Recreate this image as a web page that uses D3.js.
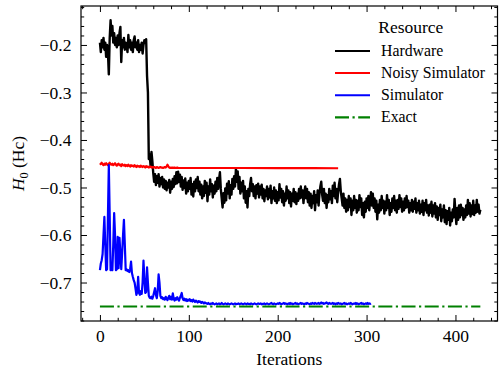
<!DOCTYPE html>
<html><head><meta charset="utf-8">
<script src="https://cdn.jsdelivr.net/npm/d3@7"></script>
<style>
body{margin:0;background:#fff}
svg{display:block}
text{font-family:"Liberation Serif","Times New Roman",serif;fill:#000}
</style>
</head><body><svg id="c" width="499" height="371"></svg>
<script>
// Hardware: one value per iteration, starting at 0
const hardware = [
-0.195,-0.215,-0.190,-0.205,-0.185,-0.210,-0.195,-0.225,-0.200,-0.215,
-0.262,-0.185,-0.148,-0.180,-0.160,-0.195,-0.175,-0.200,-0.185,-0.205,
-0.180,-0.200,-0.175,-0.162,-0.236,-0.190,-0.205,-0.185,-0.210,-0.195,
-0.200,-0.215,-0.179,-0.205,-0.190,-0.210,-0.195,-0.215,-0.190,-0.182,
-0.205,-0.195,-0.210,-0.190,-0.215,-0.200,-0.210,-0.195,-0.218,-0.200,
-0.190,-0.195,-0.188,-0.265,-0.300,-0.440,-0.430,-0.455,-0.425,-0.445,
-0.470,-0.488,-0.472,-0.495,-0.476,-0.490,-0.472,-0.498,-0.480,-0.493,
-0.478,-0.500,-0.483,-0.503,-0.486,-0.506,-0.490,-0.500,-0.484,-0.511,
-0.488,-0.503,-0.482,-0.499,-0.476,-0.493,-0.468,-0.491,-0.467,-0.488,
-0.473,-0.498,-0.478,-0.505,-0.485,-0.501,-0.481,-0.513,-0.490,-0.508,
-0.486,-0.503,-0.480,-0.515,-0.493,-0.519,-0.488,-0.508,-0.483,-0.501,
-0.478,-0.508,-0.488,-0.515,-0.494,-0.523,-0.498,-0.518,-0.486,-0.511,
-0.490,-0.529,-0.498,-0.515,-0.483,-0.508,-0.493,-0.521,-0.496,-0.513,
-0.488,-0.508,-0.480,-0.503,-0.483,-0.468,-0.503,-0.523,-0.542,-0.512,
-0.532,-0.502,-0.527,-0.492,-0.513,-0.487,-0.523,-0.495,-0.515,-0.482,
-0.503,-0.476,-0.498,-0.461,-0.488,-0.466,-0.503,-0.478,-0.513,-0.490,
-0.508,-0.486,-0.523,-0.498,-0.532,-0.508,-0.542,-0.503,-0.518,-0.493,
-0.480,-0.508,-0.493,-0.518,-0.498,-0.523,-0.495,-0.513,-0.492,-0.521,
-0.498,-0.515,-0.494,-0.523,-0.503,-0.529,-0.506,-0.518,-0.498,-0.525,
-0.503,-0.521,-0.496,-0.533,-0.508,-0.523,-0.500,-0.528,-0.506,-0.533,
-0.510,-0.527,-0.493,-0.521,-0.503,-0.531,-0.508,-0.538,-0.513,-0.528,
-0.498,-0.523,-0.506,-0.533,-0.510,-0.540,-0.513,-0.528,-0.503,-0.531,
-0.510,-0.535,-0.513,-0.528,-0.503,-0.523,-0.498,-0.521,-0.506,-0.533,
-0.510,-0.498,-0.523,-0.503,-0.531,-0.510,-0.538,-0.513,-0.543,-0.518,
-0.533,-0.508,-0.548,-0.516,-0.531,-0.506,-0.538,-0.513,-0.498,-0.488,
-0.515,-0.528,-0.503,-0.533,-0.513,-0.543,-0.516,-0.531,-0.503,-0.525,
-0.508,-0.533,-0.496,-0.518,-0.490,-0.523,-0.503,-0.531,-0.510,-0.493,
-0.482,-0.508,-0.523,-0.538,-0.513,-0.543,-0.523,-0.551,-0.526,-0.548,
-0.518,-0.541,-0.523,-0.558,-0.528,-0.548,-0.518,-0.543,-0.526,-0.553,
-0.528,-0.548,-0.516,-0.541,-0.523,-0.558,-0.533,-0.563,-0.530,-0.551,
-0.523,-0.543,-0.518,-0.548,-0.528,-0.510,-0.538,-0.513,-0.543,-0.523,
-0.551,-0.528,-0.567,-0.536,-0.553,-0.526,-0.548,-0.518,-0.543,-0.528,
-0.555,-0.530,-0.548,-0.516,-0.543,-0.526,-0.558,-0.533,-0.551,-0.523,
-0.543,-0.518,-0.548,-0.528,-0.553,-0.526,-0.545,-0.516,-0.541,-0.523,
-0.551,-0.530,-0.548,-0.523,-0.543,-0.518,-0.541,-0.528,-0.553,-0.533,
-0.548,-0.526,-0.551,-0.530,-0.545,-0.523,-0.553,-0.533,-0.548,-0.528,
-0.555,-0.536,-0.551,-0.528,-0.558,-0.533,-0.548,-0.526,-0.553,-0.538,
-0.559,-0.536,-0.553,-0.530,-0.561,-0.538,-0.555,-0.533,-0.563,-0.540,
-0.568,-0.543,-0.558,-0.536,-0.571,-0.546,-0.563,-0.538,-0.573,-0.548,
-0.577,-0.550,-0.568,-0.543,-0.580,-0.553,-0.571,-0.546,-0.563,-0.524,
-0.553,-0.577,-0.543,-0.568,-0.538,-0.563,-0.536,-0.558,-0.543,-0.568,
-0.546,-0.563,-0.538,-0.558,-0.526,-0.555,-0.533,-0.561,-0.538,-0.556,
-0.528,-0.558,-0.538,-0.553,-0.526,-0.551,-0.536,-0.555,-0.547
];

// Noisy simulator: one value per iteration for the start, then [iteration, value] points
const noisyHead = [
-0.452,-0.450,-0.448,-0.451,-0.453,-0.450,-0.452,-0.449,-0.451,-0.453,
-0.450,-0.448,-0.451,-0.452,-0.450,-0.453,-0.451,-0.449,-0.452,-0.454,
-0.451,-0.450,-0.453,-0.452,-0.455,-0.451,-0.453,-0.454,-0.452,-0.455,
-0.453,-0.455,-0.452,-0.454,-0.456,-0.453,-0.455,-0.454,-0.456,-0.453,
-0.455,-0.457,-0.454,-0.456,-0.455,-0.457,-0.454,-0.456,-0.457,-0.455,
-0.456,-0.458,-0.455,-0.457,-0.456,-0.458,-0.457,-0.456,-0.458,-0.457,
-0.458,-0.457,-0.458,-0.459,-0.457,-0.458,-0.459,-0.458,-0.457,-0.458,
-0.458,-0.459,-0.458,-0.457,-0.458,-0.456,-0.452,-0.456,-0.458,-0.459,
-0.458,-0.459,-0.458,-0.459,-0.458,-0.459,-0.459,-0.458,-0.459,-0.459,-0.459
];
const noisyTail = [[120,-0.459],[160,-0.459],[200,-0.4592],[240,-0.4594],[268,-0.4595]];

// Simulator: one value per iteration, starting at 0
const simulator = [
-0.674,-0.660,-0.653,-0.640,-0.600,-0.562,-0.620,-0.674,-0.672,-0.560,
-0.453,-0.560,-0.674,-0.670,-0.674,-0.620,-0.554,-0.600,-0.674,-0.672,
-0.604,-0.670,-0.606,-0.640,-0.672,-0.637,-0.600,-0.568,-0.620,-0.674,
-0.672,-0.676,-0.674,-0.678,-0.672,-0.656,-0.680,-0.688,-0.695,-0.700,
-0.712,-0.726,-0.720,-0.688,-0.722,-0.726,-0.718,-0.724,-0.700,-0.654,
-0.690,-0.722,-0.720,-0.668,-0.700,-0.728,-0.732,-0.733,-0.730,-0.734,
-0.728,-0.720,-0.712,-0.726,-0.733,-0.718,-0.683,-0.700,-0.728,-0.733,
-0.731,-0.735,-0.733,-0.736,-0.730,-0.734,-0.737,-0.732,-0.728,-0.735,
-0.730,-0.736,-0.723,-0.734,-0.738,-0.733,-0.736,-0.731,-0.735,-0.738,
-0.732,-0.728,-0.722,-0.733,-0.737,-0.734,-0.738,-0.735,-0.739,-0.736,
-0.738,-0.735,-0.739,-0.737,-0.740,-0.736,-0.739,-0.741,-0.738,-0.740,
-0.742,-0.739,-0.741,-0.740,-0.743,-0.741,-0.742,-0.744,-0.742,-0.743,
-0.744,-0.745,-0.743,-0.745,-0.746,-0.744,-0.745,-0.743,-0.745,-0.746,
-0.745,-0.744,-0.746,-0.745,-0.744,-0.746,-0.745,-0.743,-0.745,-0.746,
-0.745,-0.744,-0.745,-0.746,-0.744,-0.745,-0.746,-0.745,-0.744,-0.745,
-0.746,-0.745,-0.744,-0.746,-0.745,-0.745,-0.744,-0.746,-0.745,-0.744,
-0.745,-0.746,-0.745,-0.744,-0.745,-0.746,-0.744,-0.745,-0.745,-0.746,
-0.744,-0.745,-0.746,-0.745,-0.744,-0.745,-0.746,-0.745,-0.744,-0.745,
-0.745,-0.744,-0.746,-0.745,-0.745,-0.744,-0.746,-0.745,-0.744,-0.745,
-0.746,-0.745,-0.744,-0.743,-0.745,-0.746,-0.744,-0.745,-0.746,-0.745,
-0.744,-0.745,-0.743,-0.744,-0.746,-0.745,-0.744,-0.743,-0.745,-0.744,
-0.745,-0.746,-0.744,-0.745,-0.743,-0.745,-0.744,-0.746,-0.745,-0.744,
-0.743,-0.745,-0.744,-0.746,-0.745,-0.744,-0.743,-0.745,-0.744,-0.745,
-0.746,-0.744,-0.745,-0.743,-0.744,-0.745,-0.746,-0.744,-0.745,-0.743,
-0.744,-0.745,-0.743,-0.744,-0.745,-0.744,-0.743,-0.745,-0.744,-0.742,
-0.744,-0.743,-0.745,-0.744,-0.743,-0.742,-0.744,-0.745,-0.743,-0.744,
-0.745,-0.744,-0.743,-0.745,-0.744,-0.746,-0.744,-0.745,-0.743,-0.744,
-0.745,-0.744,-0.746,-0.745,-0.744,-0.743,-0.745,-0.744,-0.746,-0.745,
-0.744,-0.745,-0.743,-0.744,-0.746,-0.745,-0.744,-0.745,-0.743,-0.745,
-0.744,-0.746,-0.745,-0.744,-0.743,-0.745,-0.744,-0.746,-0.745,-0.744,
-0.745,-0.743,-0.745,-0.744,-0.745,-0.744
];

// Exact: [iteration, value]
const exact = [[0,-0.7505],[428,-0.7505]];

const xTicks = [0,100,200,300,400];
const yTicks = [-0.7,-0.6,-0.5,-0.4,-0.3,-0.2];
const legendTitle = "Resource";
const legendLabels = ["Hardware","Noisy Simulator","Simulator","Exact"];
const seriesColors = ["#000000","#ff0000","#0000ff","#008000"];

// ---------- drawing ----------
const svg = d3.select("#c");
const L = 81, R = 497.5, T = 6, B = 321;
const x = d3.scaleLinear().domain([-21.3, 447.3]).range([L, R]);
const y = d3.scaleLinear().domain([-0.781, -0.118]).range([B, T]);

const line = d3.line().x(d => x(d[0])).y(d => y(d[1]));
const idx = arr => arr.map((v, i) => [i, v]);

const hwPts = idx(hardware);
const noisyPts = idx(noisyHead).concat(noisyTail);
const simPts = idx(simulator);

const plot = svg.append("g");
plot.append("path").datum(hwPts).attr("d", line)
  .attr("fill","none").attr("stroke",seriesColors[0]).attr("stroke-width",2.4).attr("stroke-linejoin","round");
plot.append("path").datum(noisyPts).attr("d", line)
  .attr("fill","none").attr("stroke",seriesColors[1]).attr("stroke-width",2.2).attr("stroke-linejoin","round");
plot.append("path").datum(simPts).attr("d", line)
  .attr("fill","none").attr("stroke",seriesColors[2]).attr("stroke-width",2.2).attr("stroke-linejoin","round");
plot.append("path").datum(exact).attr("d", line)
  .attr("fill","none").attr("stroke",seriesColors[3]).attr("stroke-width",2.2)
  .attr("stroke-dasharray","14,3.5,2.2,3.5");

// axes with inward ticks
const fs = 17.5;
const serif = "'Liberation Serif','Times New Roman',serif";
const xMinor = d3.range(-20, 447, 20).filter(v => v % 100 !== 0);
const yMinor = d3.range(-78, -11, 2).map(v => v / 100).filter(v => Math.abs(Math.round(v*100)) % 10 !== 0);

function styleAxis(g){
  g.attr("font-family", serif);
  g.select(".domain").remove();
  g.selectAll(".tick line").attr("stroke","#000").attr("stroke-width",1);
  g.selectAll(".tick text").attr("font-size",fs).style("font-family",serif).attr("fill","#000");
}
// bottom
svg.append("g").attr("transform",`translate(0,${B})`)
  .call(d3.axisBottom(x).tickValues(xTicks).tickSize(-6).tickPadding(8.5).tickFormat(d3.format("d")))
  .call(styleAxis);
svg.append("g").attr("transform",`translate(0,${B})`)
  .call(d3.axisBottom(x).tickValues(xMinor).tickSize(-3.2).tickFormat(""))
  .call(styleAxis);
// top
svg.append("g").attr("transform",`translate(0,${T})`)
  .call(d3.axisTop(x).tickValues(xTicks).tickSize(-6).tickFormat(""))
  .call(styleAxis);
svg.append("g").attr("transform",`translate(0,${T})`)
  .call(d3.axisTop(x).tickValues(xMinor).tickSize(-3.2).tickFormat(""))
  .call(styleAxis);
// left
svg.append("g").attr("transform",`translate(${L},0)`)
  .call(d3.axisLeft(y).tickValues(yTicks).tickSize(-6).tickPadding(9.5)
    .tickFormat(d => "\u2212" + d3.format(".1f")(Math.abs(d))))
  .call(styleAxis);
svg.append("g").attr("transform",`translate(${L},0)`)
  .call(d3.axisLeft(y).tickValues(yMinor).tickSize(-3.2).tickFormat(""))
  .call(styleAxis);
// right
svg.append("g").attr("transform",`translate(${R},0)`)
  .call(d3.axisRight(y).tickValues(yTicks).tickSize(-6).tickFormat(""))
  .call(styleAxis);
svg.append("g").attr("transform",`translate(${R},0)`)
  .call(d3.axisRight(y).tickValues(yMinor).tickSize(-3.2).tickFormat(""))
  .call(styleAxis);

// frame
svg.append("rect").attr("x",L).attr("y",T).attr("width",R-L).attr("height",B-T)
  .attr("fill","none").attr("stroke","#000").attr("stroke-width",1.2);

// axis titles
svg.append("text").attr("x",(L+R)/2).attr("y",365).attr("text-anchor","middle")
  .attr("font-size",fs).text("Iterations");
const yl = svg.append("text").attr("transform",`translate(24,${(T+B)/2}) rotate(-90)`)
  .attr("text-anchor","middle").attr("font-size",fs);
yl.append("tspan").attr("font-style","italic").text("H");
yl.append("tspan").attr("font-size",fs*0.7).attr("dy",3.5).text("0");
yl.append("tspan").attr("dy",-3.5).text(" (Hc)");

// legend
const lg = svg.append("g");
lg.append("text").attr("x",410.8).attr("y",33.3).attr("text-anchor","middle")
  .attr("font-size",fs).text(legendTitle);
legendLabels.forEach((lab, i) => {
  const ly = 51 + i * 22.1;
  const ln = lg.append("line").attr("x1",335).attr("x2",370).attr("y1",ly).attr("y2",ly)
    .attr("stroke",seriesColors[i]).attr("stroke-width", i === 3 ? 2.2 : 2);
  if (i === 3) ln.attr("stroke-dasharray","14,3.5,2.2,3.5");
  lg.append("text").attr("x",381).attr("y",ly+4.8).attr("font-size",15.8).text(lab);
});
</script>
</body></html>
